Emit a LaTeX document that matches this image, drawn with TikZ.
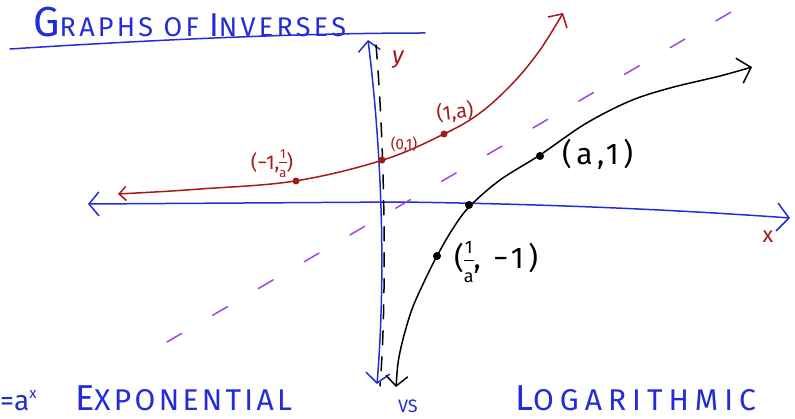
\documentclass[tikz,border=0pt]{standalone}
\usepackage{fontspec}
\usepackage{amsmath}
\setmainfont{Fira Sans}
\usetikzlibrary{arrows.meta}
\definecolor{inkblue}{RGB}{35,45,215}
\definecolor{inkred}{RGB}{165,25,25}
\definecolor{inkpurple}{RGB}{160,70,230}
\newcommand\spaced[1]{\addfontfeatures{LetterSpace=#1}}
\newcommand\stk[2]{\begin{tabular}{@{}c@{}}#1\\[-3pt]\hline\noalign{\vskip1pt}#2\end{tabular}}
\begin{document}
\begin{tikzpicture}[x=1pt,y=-1pt, line cap=round, line join=round,
  pen/.style={line width=1.5pt},
  axis/.style={pen, draw=inkblue},
  dot/.style={circle, fill=#1, inner sep=0pt, minimum size=8pt},
  redlab/.style={text=inkred, font=\fontsize{20}{20}\selectfont, inner sep=0pt},
  blklab/.style={text=black, font=\fontsize{30}{30}\selectfont\spaced{15}, inner sep=0pt},
  bluetxt/.style={text=inkblue, inner sep=0pt}
]
\useasboundingbox (0,0) rectangle (795,419);
\clip (0,0) rectangle (795,419);

% title
\node[bluetxt, anchor=base west] (title) at (33,37)
  {\spaced{12}\fontsize{42}{42}\selectfont G\fontsize{27}{27}\selectfont RAPHS OF \fontsize{33}{33}\selectfont I\fontsize{27}{27}\selectfont NVERSES};
\coordinate (ul1) at (10,49);
\coordinate (ul2) at (425,33);
\draw[axis] (ul1) .. controls (150,40) and (300,33) .. (ul2);

% axes
\coordinate (ytop) at (368,40);
\coordinate (ybot) at (377,384);
\draw[axis, {Straight Barb[length=10pt,width=22pt,line width=1.5pt]}-{Straight Barb[length=10pt,width=24pt,line width=1.5pt]}]
  (ytop) .. controls (378,120) and (388,250) .. (ybot);
\coordinate (xl) at (88,204);
\coordinate (xr) at (790,218);
\draw[axis, {Straight Barb[length=10pt,width=24pt,line width=1.5pt]}-{Straight Barb[length=12pt,width=28pt,line width=1.5pt]}]
  (xl) -- (400,202) .. controls (550,204) and (680,210) .. (xr);
\node[text=inkred, font=\fontsize{22}{22}\selectfont, inner sep=0pt] (xlab) at (768,237) {x};
\node[text=inkred, font=\fontsize{24}{24}\selectfont\itshape, inner sep=0pt] (ylab) at (398,60) {y};

% y = x dashed line
\coordinate (d1) at (167,342);
\coordinate (d2) at (738,8);
\draw[pen, draw=inkpurple, dash pattern=on 17pt off 36pt] (d1) -- (d2);

% vertical asymptote
\coordinate (as1) at (376,45);
\coordinate (as2) at (380,386);
\draw[pen, dash pattern=on 14pt off 12pt] (as1) .. controls (385,150) and (387,300) .. (as2);

% exponential curve
\coordinate (el) at (118,194);
\coordinate (et) at (563,13);
\draw[pen, draw=inkred, {Straight Barb[length=7pt,width=14pt,line width=1.5pt]}-{Straight Barb[length=10pt,width=22pt,line width=1.5pt]}]
  plot[smooth, tension=0.6] coordinates {(el) (200,189) (295,181) (383,160) (444,134) (480,113) (513,83) (540,50) (et)};
\node[dot=inkred, minimum size=7pt] (e1) at (296,181) {};
\node[dot=inkred, minimum size=7pt] (e2) at (382,160) {};
\node[dot=inkred, minimum size=7pt] (e3) at (444,134) {};
\node[redlab] (e1l) at (272,164) {(−1,\stk{\fontsize{13}{13}\selectfont 1}{\fontsize{13}{13}\selectfont a})};
\node[redlab, font=\fontsize{15}{15}\selectfont] (e2l) at (404,144) {(0,1)};
\node[redlab, rotate=6] (e3l) at (455,112) {(1,a)};

% logarithmic curve
\coordinate (lb) at (396,387);
\coordinate (lt) at (752,67);
\draw[pen, {Straight Barb[length=10pt,width=22pt,line width=1.5pt]}-{Straight Barb[length=12pt,width=26pt,line width=1.5pt]}]
  plot[smooth, tension=0.55] coordinates {(lb) (400,352) (411,312) (424,282) (437,256) (452,230) (469,207) (500,180) (540,155) (585,124) (630,101) (670,88) (720,76) (lt)};
\node[dot=black] (l1) at (437,256) {};
\node[dot=black] (l2) at (469,205) {};
\node[dot=black] (l3) at (540,156) {};
\node[blklab, anchor=west] (l3l) at (562,154) {(a,1)};
\node[blklab, anchor=west] (l1l) at (454,262) {(\stk{\fontsize{18}{18}\selectfont 1}{\fontsize{18}{18}\selectfont a}, −1)};

% bottom texts
\node[bluetxt, anchor=base west] (eq) at (0,410) {\fontsize{28}{28}\selectfont =a\raisebox{12pt}{\fontsize{15}{15}\selectfont x}};
\node[bluetxt, anchor=base west] (exp) at (75,410)
  {\spaced{11}\fontsize{36}{36}\selectfont E\fontsize{30}{30}\selectfont XPONENTIAL};
\node[bluetxt, anchor=base west] (vs) at (398,412) {\fontsize{18}{18}\selectfont VS};
\node[bluetxt, anchor=base west] (log) at (515,410)
  {\spaced{20}\fontsize{36}{36}\selectfont L\fontsize{30}{30}\selectfont OGARITHMIC};
\end{tikzpicture}
\end{document}
